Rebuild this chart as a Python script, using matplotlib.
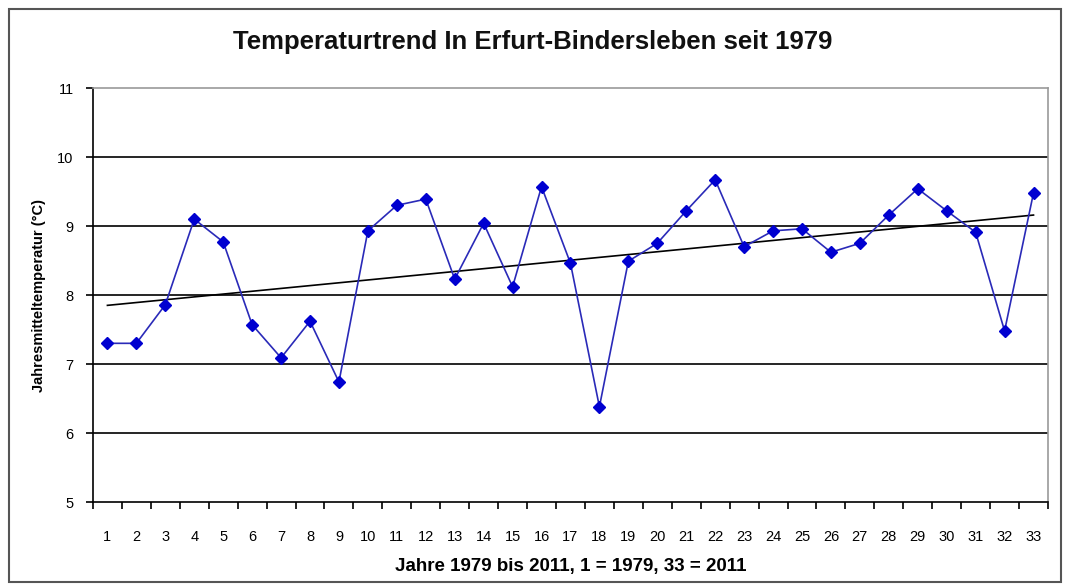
import numpy as np
import matplotlib
matplotlib.use("Agg")
import matplotlib.pyplot as plt
from matplotlib.patches import Rectangle

# Jahresmitteltemperatur Erfurt-Bindersleben, 1 = 1979 ... 33 = 2011
jahre = list(range(1, 34))
temperatur = [7.30, 7.30, 7.86, 9.10, 8.77, 7.57, 7.09, 7.62, 6.74, 8.93,
              9.30, 9.39, 8.23, 9.04, 8.12, 9.57, 8.46, 6.38, 8.49, 8.75,
              9.22, 9.67, 8.70, 8.93, 8.96, 8.62, 8.75, 9.16, 9.54, 9.22,
              8.91, 7.48, 9.48]
y_ticks = [5, 6, 7, 8, 9, 10, 11]

plt.rcParams['font.family'] = ['Liberation Sans', 'DejaVu Sans']

fig = plt.figure(figsize=(10.66, 5.86), dpi=100)
ax = fig.add_axes([0.0872, 0.1433, 0.8959, 0.7065])

x = np.array(jahre)
y = np.array(temperatur)
ax.plot(x, y, color='#2a2ab8', lw=1.2, marker='D', markersize=6,
        markerfacecolor='#0000d0', markeredgecolor='#0000d0', zorder=3)

# linearer Trend
k, d = np.polyfit(x, y, 1)
ax.plot([x[0], x[-1]], [k * x[0] + d, k * x[-1] + d], color='black', lw=1.2, zorder=2)

ax.set_xlim(0.5, 33.5)
ax.set_ylim(5, 11)
ax.set_yticks(y_ticks)
for v in y_ticks[1:-1]:
    ax.axhline(v, color='black', lw=1.2, zorder=1)

ax.set_xticks(x)
ax.set_xticklabels([str(i) for i in jahre], fontsize=10.5)
ax.set_xticks(np.arange(0.5, 34, 1), minor=True)
ax.tick_params(axis='x', which='major', length=0, pad=20)
ax.tick_params(axis='x', which='minor', length=5, width=1.2, direction='out')
ax.tick_params(axis='y', length=5, width=1.2, direction='out', labelsize=10.5, pad=9)

for side in ['top', 'right']:
    ax.spines[side].set_color('#999999')
    ax.spines[side].set_linewidth(1.2)
for side in ['left', 'bottom']:
    ax.spines[side].set_color('black')
    ax.spines[side].set_linewidth(1.2)

ax.set_ylabel('Jahresmitteltemperatur (°C)', fontsize=10.5, fontweight='bold', labelpad=8)
ax.set_xlabel('Jahre 1979 bis 2011, 1 = 1979, 33 = 2011', fontsize=13.5, fontweight='bold', labelpad=10)
fig.text(0.5, 0.928, 'Temperaturtrend In Erfurt-Bindersleben seit 1979', ha='center', va='center',
         fontsize=18.5, fontweight='bold', color='#111111')

fig.patches.append(Rectangle((9 / 1066, 4 / 586), 1052 / 1066, 573 / 586,
                             transform=fig.transFigure, fill=False, edgecolor='#555555', lw=1.5))

fig.savefig('out.png', dpi=100)
